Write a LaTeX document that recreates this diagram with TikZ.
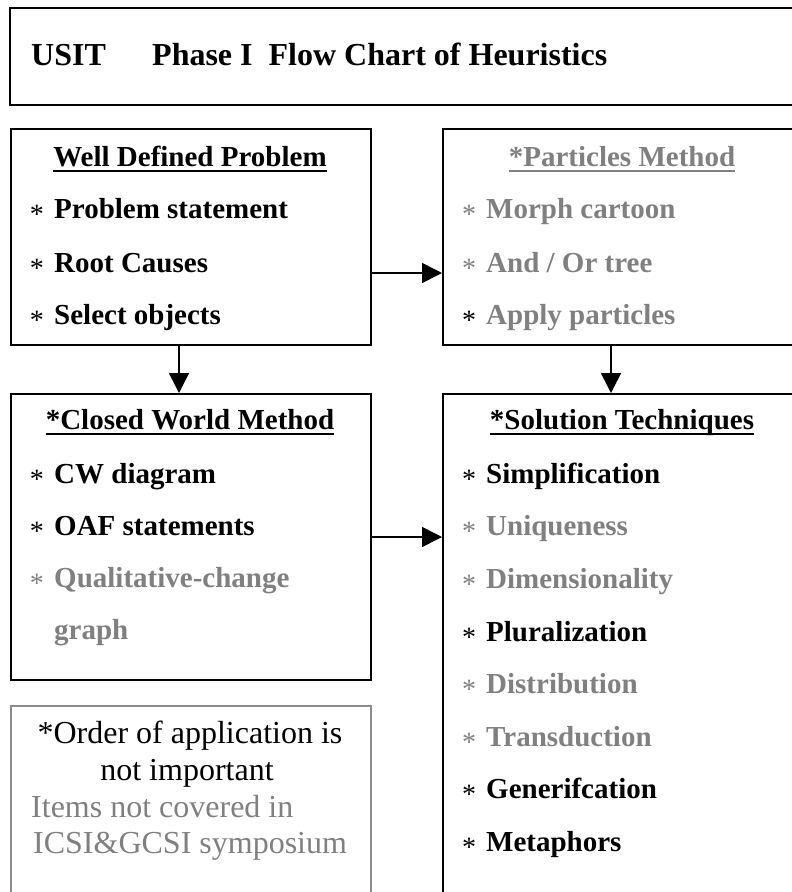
\documentclass[tikz,border=0pt]{standalone}
\usepackage{fontspec}
\setmainfont{Liberation Serif}
\usetikzlibrary{arrows.meta}

\definecolor{dim}{HTML}{808080}
\definecolor{noteframe}{HTML}{8C8C8C}

% one list entry: asterisk + label
% #1 name, #2 asterisk centre x, #3 baseline y, #4 asterisk colour, #5 label colour, #6 label
\newcommand\entryrow[6]{%
  \node[astk, text=#4] (#1-ast) at (#2, #3+5) {*};
  \node[entry, text=#5] (#1) at (#2+17, #3) {#6};
}

\tikzset{
  panel/.style={draw, line width=2pt, anchor=north west, inner sep=0pt,
                minimum width=360pt},
  notepanel/.style={draw=noteframe, line width=1.5pt, anchor=north west,
                inner sep=0pt, minimum width=360pt},
  head/.style={font=\bfseries\fontsize{29}{35}\selectfont, inner sep=0pt, anchor=base},
  entry/.style={font=\bfseries\fontsize{29}{35}\selectfont, inner sep=0pt, anchor=base west},
  astk/.style={font=\fontsize{28}{28}\selectfont, inner sep=0pt, anchor=base},
  titletext/.style={font=\bfseries\fontsize{32}{38}\selectfont, inner sep=0pt, anchor=base west},
  notetext/.style={font=\fontsize{32}{37}\selectfont, inner sep=0pt},
  link/.style={line width=1.5pt, -{Triangle[length=20pt,width=20pt]}},
  rulebar/.style={line width=2pt},
}

\begin{document}
\begin{tikzpicture}[x=1pt, y=-1pt]
\useasboundingbox (0,0) rectangle (792,892);
\clip (0,0) rectangle (792,892);

% ---- frames ----
\node[panel, minimum width=800pt, minimum height=97pt] (titlebox) at (9,7) {};
\node[panel, minimum height=216pt] (wdp) at (10,128) {};
\node[panel, minimum height=216pt] (pm)  at (442,128) {};
\node[panel, minimum height=286pt] (cwm) at (10,393) {};
\node[panel, minimum height=520pt] (st)  at (442,393) {};
\node[notepanel, minimum height=200pt] (note) at (10,705) {};

% ---- title ----
\node[titletext] (usit) at (31,65) {USIT};
\node[titletext] (phase) at (152,65) {Phase I\ \ Flow Chart of Heuristics};

% ---- Well Defined Problem ----
\node[head] (wdp-head) at (190,166) {Well Defined Problem};
\draw[rulebar] ([yshift=-4.5pt]wdp-head.base west) -- ([yshift=-4.5pt]wdp-head.base east);
\entryrow{wdp1}{37}{218}{black}{black}{Problem statement}
\entryrow{wdp2}{37}{272}{black}{black}{Root Causes}
\entryrow{wdp3}{37}{324}{black}{black}{Select objects}

% ---- Particles Method ----
\node[head, text=dim] (pm-head) at (622,166) {*Particles Method};
\draw[rulebar, dim] ([yshift=-4.5pt]pm-head.base west) -- ([yshift=-4.5pt]pm-head.base east);
\entryrow{pm1}{469}{218}{dim}{dim}{Morph cartoon}
\entryrow{pm2}{469}{272}{dim}{dim}{And / Or tree}
\entryrow{pm3}{469}{324}{black}{dim}{Apply particles}

% ---- Closed World Method ----
\node[head] (cwm-head) at (190,429) {*Closed World Method};
\draw[rulebar] ([yshift=-4.5pt]cwm-head.base west) -- ([yshift=-4.5pt]cwm-head.base east);
\entryrow{cwm1}{37}{483}{black}{black}{CW diagram}
\entryrow{cwm2}{37}{535}{black}{black}{OAF statements}
\entryrow{cwm3}{37}{587}{dim}{dim}{Qualitative-change}
\node[entry, text=dim] (cwm4) at (54,639) {graph};

% ---- Solution Techniques ----
\node[head] (st-head) at (622,429) {*Solution Techniques};
\draw[rulebar] ([yshift=-4.5pt]st-head.base west) -- ([yshift=-4.5pt]st-head.base east);
\entryrow{st1}{469}{483}{black}{black}{Simplification}
\entryrow{st2}{469}{535}{dim}{dim}{Uniqueness}
\entryrow{st3}{469}{588}{dim}{dim}{Dimensionality}
\entryrow{st4}{469}{641}{black}{black}{Pluralization}
\entryrow{st5}{469}{693}{dim}{dim}{Distribution}
\entryrow{st6}{469}{746}{dim}{dim}{Transduction}
\entryrow{st7}{469}{798}{black}{black}{Generifcation}
\entryrow{st8}{469}{851}{black}{black}{Metaphors}

% ---- note ----
\node[notetext, anchor=base] (note1) at (190,743) {*Order of application is};
\node[notetext, anchor=base] (note2) at (187,780) {not important};
\node[notetext, anchor=base west, text=dim] (note3) at (31,817) {Items not covered in};
\node[notetext, anchor=base west, text=dim] (note4) at (33,853) {ICSI\&GCSI symposium};

% ---- connectors ----
\draw[link] ([yshift=-36pt]wdp.east) -- ([yshift=-36pt]pm.west);
\draw[link] ([xshift=-12pt]wdp.south) -- ([xshift=-12pt]cwm.north);
\draw[link] ([xshift=-12pt]pm.south) -- ([xshift=-12pt]st.north);
\draw[link] (cwm.east) -- (cwm.east -| st.west);
\end{tikzpicture}
\end{document}
